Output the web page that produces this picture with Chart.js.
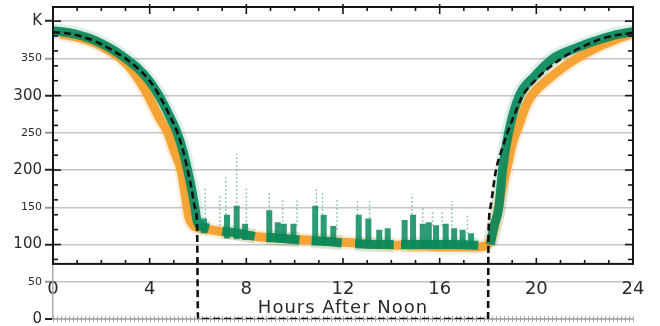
<!DOCTYPE html>
<html><head><meta charset="utf-8">
<script src="https://cdn.jsdelivr.net/npm/chart.js@4.4.1/dist/chart.umd.min.js"></script>
<style>html,body{margin:0;padding:0;background:#fff}#wrap{width:660px;height:326px;position:relative}</style>
</head><body><div id="wrap"><canvas id="c"></canvas></div>
<script>
// ---- data ----
const xTickHours = [0, 4, 8, 12, 16, 20, 24];
const yTickK = [0, 50, 100, 150, 200, 250, 300, 350, 400];

// model curve (black dashed)
const modelHours = [0,0.5,1,1.5,2,2.5,3,3.5,4,4.4,4.8,5.15,5.4,5.57,5.75,5.87,5.96,6,18,18.02,18.1,18.33,18.55,18.8,19.1,19.4,20,20.5,21,21.5,22,22.5,23,23.5,24];
const modelK     = [385,384,381,376,369,360,350,337,320,300,275,250,224,200,172,150,128,0,0,110,150,200,225,250,275,298,322,337,349,359,367,374,379,382,384];

// green observations (band centre; null = no green data)
const greenHours = [0,0.5,1,1.5,2,2.5,3,3.5,4,4.4,4.8,5.15,5.4,5.57,5.75,5.87,5.96,6.05,6.45,6.5,7.0,7.5,8.0,8.35,8.4,8.85,9.5,10.2,10.25,10.7,11.3,11.95,12.0,12.5,13.3,14.1,14.15,14.4,15.5,16.5,17.6,17.65,18.1,18.25,18.45,18.6,18.85,19.3,19.9,20.7,21.5,22.3,23.2,24];
const greenK     = [387,385,382,377,370,361,350,337,319,299,274,249,223,200,172,150,132,126,122,null,118,116,113,111,null,110,108,106,null,105,104,102,null,101,100,100,null,100,100,100,99,null,100,125,150,200,250,300,325,350,362,372,381,386];

// orange observations (band centre)
const orangeHours = [0.3,0.8,1.3,1.8,2.35,2.8,3.3,3.9,4.4,4.75,5.02,5.3,5.48,5.62,5.8,6.1,6.5,7,7.5,8,8.6,9,9.5,10,10.5,11,11.5,12,12.5,13,13.5,14,14.5,15,15.5,16,16.5,17,17.5,17.9,18.15,18.35,18.55,18.8,19.0,19.3,19.55,19.8,20.5,21.2,22.0,22.8,23.5,24];
const orangeK     = [383,380,376,370,360,350,333,302,270,250,225,200,165,137,126,122,120,117,115,113,110,109,108,107,106,105,104,103,102,101,100,99,99,98,98,97,97,97,97,98,110,135,170,205,235,262,285,300,322,340,356,369,378,384];

// dense green night-time clusters (low..high K)
const clusterHours = [6.25,7.2,7.6,7.95,8.95,9.3,9.55,9.95,10.85,11.2,11.6,12.65,13.05,13.5,13.85,14.55,14.9,15.3,15.55,15.85,16.25,16.6,16.95,17.3];
const clusterLow   = [115,108,107,106,103,103,103,102,100,99,99,98,97,97,97,96,96,96,95,95,95,96,96,96];
const clusterHigh  = [135,140,152,128,146,130,128,128,152,140,125,140,135,120,122,133,140,128,130,126,128,122,120,115];

// sparse green night-time outliers (low..high K)
const spikeHours = [6.3,6.9,7.15,7.6,8.0,8.95,9.5,10.1,10.9,11.15,11.75,12.6,13.1,14.85,15.3,15.7,16.1,16.5,17.15];
const spikeLow   = [130,125,135,145,125,140,125,125,145,135,120,135,130,135,125,125,125,125,115];
const spikeHigh  = [175,165,190,222,175,170,160,160,175,172,160,160,158,168,150,145,145,158,140];

// frame of the inner plot box (K)
const boxBottomK = 74, boxTopK = 419;

// ---- helpers ----
const pts = (hs, ks) => hs.map((h, i) => ({x: h, y: ks[i]}));
const bars = (hs, lo, hi) => hs.flatMap((h, i) => [{x: h, y: lo[i]}, {x: h, y: hi[i]}, {x: h, y: null}]);

const GREEN = 'rgba(8,138,92,0.92)';
const GREEN_HALO = 'rgba(30,150,110,0.16)';
const ORANGE = 'rgba(246,160,44,0.95)';
const ORANGE_HALO = 'rgba(246,165,60,0.2)';
const FONT = 'DejaVu Sans';

const framePlugin = {
  id: 'frame',
  beforeDatasetsDraw(chart) {
    const {ctx, scales: {x, y}} = chart;
    const py = y.getPixelForValue(0);
    ctx.save();
    ctx.strokeStyle = 'rgba(150,150,150,0.8)';
    ctx.lineWidth = 1;
    for (let h = 0; h <= 24.001; h += 1/6) {
      const px = Math.round(x.getPixelForValue(h)) + 0.5;
      ctx.beginPath(); ctx.moveTo(px, py - 3); ctx.lineTo(px, py + 3); ctx.stroke();
    }
    ctx.restore();
  },
  afterDatasetsDraw(chart) {
    const {ctx, scales: {x, y}} = chart;
    const L = x.getPixelForValue(0), R = x.getPixelForValue(24);
    const T = y.getPixelForValue(boxTopK), B = y.getPixelForValue(boxBottomK);
    const line = (x1, y1, x2, y2) => { ctx.beginPath(); ctx.moveTo(x1, y1); ctx.lineTo(x2, y2); ctx.stroke(); };
    ctx.save();
    ctx.strokeStyle = '#161616';
    ctx.lineWidth = 1.6;
    for (let k = 80; k <= 400; k += 20) {
      const p = y.getPixelForValue(k);
      const len = k % 100 === 0 ? 8 : 5;
      line(L, p, L + len, p);
      line(R - len, p, R, p);
    }
    for (let h = 1; h < 24; h++) {
      const p = x.getPixelForValue(h);
      const major = h % 4 === 0;
      line(p, T - (major ? 3 : 0), p, T + (major ? 7 : 4));
      line(p, B - (major ? 6 : 4), p, B);
    }
    ctx.lineWidth = 2;
    ctx.strokeRect(L, T, R - L, B - T);
    ctx.fillStyle = '#2a2a2a';
    ctx.font = '18px "' + FONT + '"';
    ctx.letterSpacing = '1px';
    ctx.textAlign = 'center';
    ctx.textBaseline = 'middle';
    ctx.fillText('Hours After Noon', x.getPixelForValue(12), B + 44);
    ctx.restore();
  }
};

new Chart(document.getElementById('c'), {
  type: 'line',
  data: {
    datasets: [
      {label: 'Model', data: pts(modelHours, modelK), borderColor: '#111', borderWidth: 2.6, borderDash: [7, 4],
       pointRadius: 0, cubicInterpolationMode: 'monotone', order: 0},
      {label: 'Green sparse', data: bars(spikeHours, spikeLow, spikeHigh), borderColor: 'rgba(40,140,115,0.6)', borderWidth: 1.5,
       borderDash: [1.5, 2.5], pointRadius: 0, tension: 0, order: 2},
      {label: 'Green clusters', data: bars(clusterHours, clusterLow, clusterHigh), borderColor: 'rgba(8,138,92,0.85)', borderWidth: 6,
       pointRadius: 0, tension: 0, order: 1},
      {label: 'Green', data: pts(greenHours, greenK), borderColor: GREEN, borderWidth: 9, borderCapStyle: 'butt', borderJoinStyle: 'round',
       pointRadius: 0, cubicInterpolationMode: 'monotone', order: 1},
      {label: 'Green spread', data: pts(greenHours, greenK), borderColor: GREEN_HALO, borderWidth: 15, borderCapStyle: 'butt', borderJoinStyle: 'round',
       pointRadius: 0, cubicInterpolationMode: 'monotone', order: 4},
      {label: 'Orange', data: pts(orangeHours, orangeK), borderColor: ORANGE, borderWidth: 9, borderCapStyle: 'butt', borderJoinStyle: 'round',
       pointRadius: 0, cubicInterpolationMode: 'monotone', order: 3},
      {label: 'Orange spread', data: pts(orangeHours, orangeK), borderColor: ORANGE_HALO, borderWidth: 14, borderCapStyle: 'butt', borderJoinStyle: 'round',
       pointRadius: 0, cubicInterpolationMode: 'monotone', order: 5}
    ]
  },
  options: {
    responsive: true, maintainAspectRatio: false, animation: false, devicePixelRatio: 1,
    layout: {padding: {left: 0, right: 27, top: 7, bottom: 7}},
    plugins: {legend: {display: false}, tooltip: {enabled: false}},
    scales: {
      x: {
        type: 'linear', min: 0, max: 24, position: {y: boxBottomK},
        grid: {display: false, drawTicks: false}, border: {display: false},
        afterBuildTicks: s => { s.ticks = xTickHours.map(v => ({value: v})); },
        ticks: {font: {family: FONT, size: 18}, color: '#2a2a2a', padding: 15, maxRotation: 0, autoSkip: false},
        afterFit: s => { s.height = 0; s.paddingLeft = 0; s.paddingRight = 0; }
      },
      y: {
        type: 'linear', min: 0, max: boxTopK,
        afterBuildTicks: s => { s.ticks = yTickK.map(v => ({value: v})); },
        ticks: {
          callback: v => (v === 400 ? 'K' : String(v)),
          font: c => ({family: FONT, size: (c.tick && c.tick.value % 100 === 0) ? 15 : 11}),
          color: '#2a2a2a', padding: 3
        },
        grid: {
          color: c => c.tick && c.tick.value === 0 ? 'rgba(170,170,170,0.9)' : '#c6c6c6',
          lineWidth: c => c.tick && c.tick.value === 0 ? 2 : 1.5,
          tickLength: 8,
          tickColor: c => c.tick && c.tick.value % 100 === 0 ? '#222' : '#999',
          tickWidth: 2
        },
        border: {display: true, color: '#aaa', width: 1.5},
        afterFit: s => { s.width = 53; s.paddingTop = 0; s.paddingBottom = 0; }
      }
    }
  },
  plugins: [framePlugin]
});
</script></body></html>
